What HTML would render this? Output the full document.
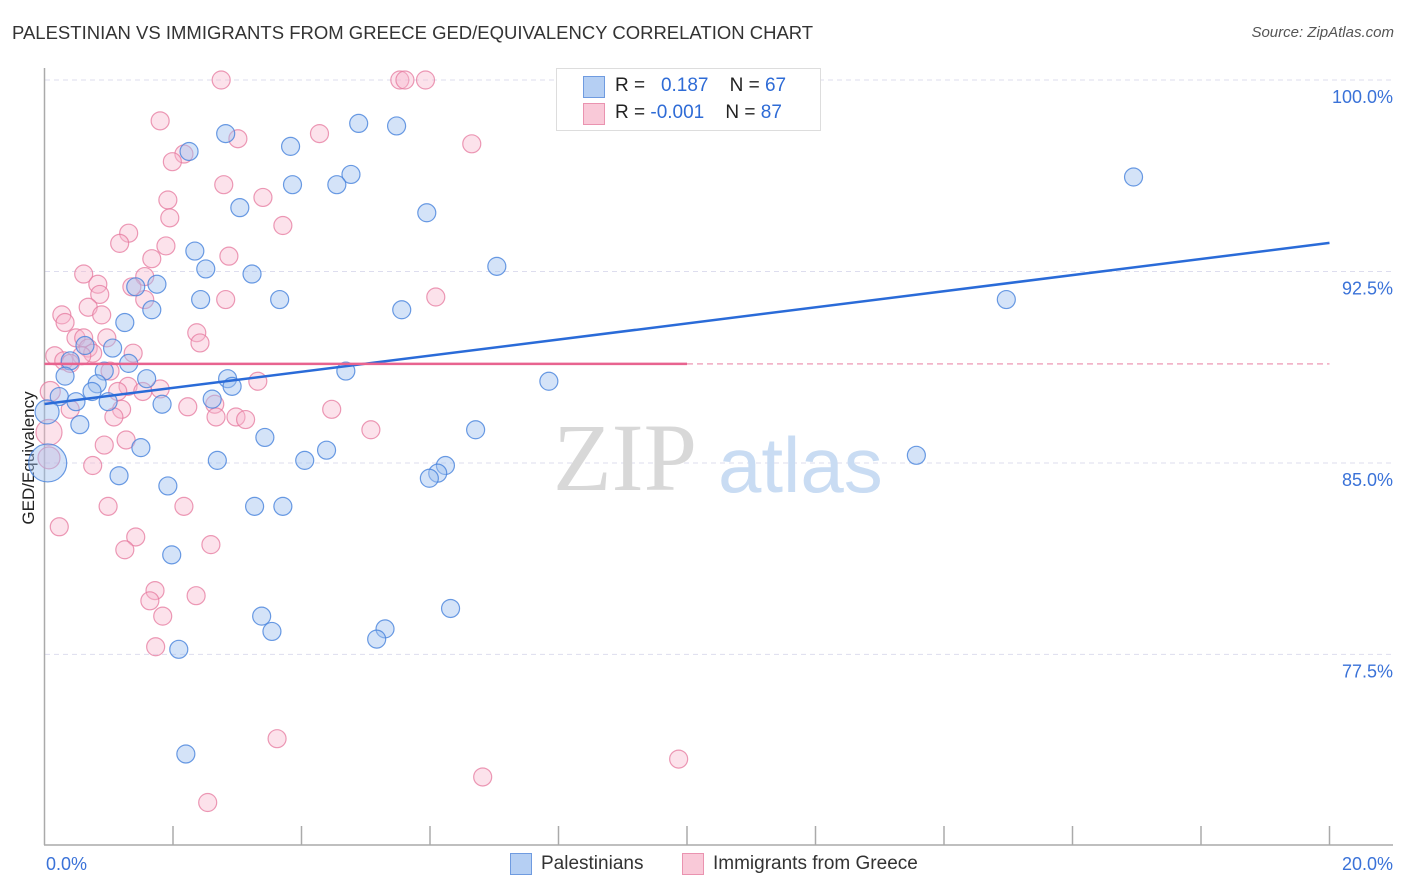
<!DOCTYPE html>
<html><head><meta charset="utf-8"><style>
body{margin:0;background:#fff;font-family:"Liberation Sans",sans-serif;}
#wrap{position:relative;width:1406px;height:892px;overflow:hidden;}
.t{position:absolute;white-space:nowrap;}
</style></head><body>
<div id="wrap">
<div class="t" style="left:12px;top:22px;font-size:18.5px;color:#333;">PALESTINIAN VS IMMIGRANTS FROM GREECE GED/EQUIVALENCY CORRELATION CHART</div>
<div class="t" style="right:12px;top:24px;font-size:15px;color:#555;font-style:italic;">Source: ZipAtlas.com</div>
<svg id="svg" width="1406" height="892" style="position:absolute;left:0;top:0"></svg>
</div>
<script>
const yTickVals=[100,92.5,85,77.5];
const yTickLabels=["100.0%","92.5%","85.0%","77.5%"];
const xTickLabels=["0.0%","20.0%"];
const blueX=[11.80,16.95,2.82,2.25,3.83,4.89,5.48,4.77,4.55,3.86,3.04,5.95,2.34,2.51,3.23,7.04,14.97,1.75,1.42,1.67,2.43,3.66,5.56,1.25,1.06,0.63,1.31,0.40,0.32,0.93,4.69,7.85,1.59,2.85,0.82,2.92,0.74,0.23,0.49,0.99,1.83,2.61,0.04,0.55,3.43,6.71,1.50,4.39,0.05,2.69,4.05,13.57,6.24,6.12,5.99,1.16,1.92,3.27,3.71,1.98,6.32,3.38,3.54,5.30,5.17,2.09,2.20];
const blueY=[100.0,96.2,97.9,97.2,97.4,98.3,98.2,96.3,95.9,95.9,95.0,94.8,93.3,92.6,92.4,92.7,91.4,92.0,91.9,91.0,91.4,91.4,91.0,90.5,89.5,89.6,88.9,89.0,88.4,88.6,88.6,88.2,88.3,88.3,88.1,88.0,87.8,87.6,87.4,87.4,87.3,87.5,87.0,86.5,86.0,86.3,85.6,85.5,85.0,85.1,85.1,85.3,84.9,84.6,84.4,84.5,84.1,83.3,83.3,81.4,79.3,79.0,78.4,78.5,78.1,77.7,73.6];
const blueSize=blueX.map((_,i)=>i===48?19:(i===42?12:9));
const pinkX=[2.75,5.53,5.61,5.93,1.80,4.28,3.01,6.65,2.17,1.99,2.79,3.40,1.92,1.95,3.71,1.31,1.17,1.89,2.87,1.67,0.61,1.56,1.36,0.83,0.86,1.56,2.82,6.09,0.68,0.89,0.27,0.32,2.37,2.42,0.49,0.61,0.97,0.68,0.75,1.38,0.16,0.58,0.30,0.40,1.02,3.32,1.30,1.80,1.14,0.09,1.53,2.23,2.65,4.47,1.20,1.08,0.40,2.98,2.67,3.13,5.08,0.07,1.27,0.93,0.75,0.07,0.99,2.17,0.23,1.42,2.59,1.25,1.72,1.64,2.36,1.84,1.73,3.62,9.87,6.82,2.54];
const pinkY=[100,100,100,100,98.4,97.9,97.7,97.5,97.1,96.8,95.9,95.4,95.3,94.6,94.3,94.0,93.6,93.5,93.1,93.0,92.4,92.3,91.9,92.0,91.6,91.4,91.4,91.5,91.1,90.8,90.8,90.5,90.1,89.7,89.9,89.9,89.9,89.5,89.3,89.3,89.2,89.2,89.0,88.9,88.6,88.2,88.0,87.9,87.8,87.8,87.8,87.2,87.3,87.1,87.1,86.8,87.1,86.8,86.8,86.7,86.3,86.2,85.9,85.7,84.9,85.2,83.3,83.3,82.5,82.1,81.8,81.6,80.0,79.6,79.8,79.0,77.8,74.2,73.4,72.7,71.7];
const pinkSize=pinkX.map((_,i)=>i===61?13:(i===65?11:(i===49?10:9)));
const blueTrend=[87.31,93.62];
const pinkTrend=[88.88,88.88];

const X0=44.5,XS=64.25,Y0=80,YS=25.53;
const sx=v=>X0+v*XS, sy=v=>Y0+(100-v)*YS;
const svg=document.getElementById('svg');const NS='http://www.w3.org/2000/svg';
function mk(tag,at,parent){const e=document.createElementNS(NS,tag);for(const k in at)e.setAttribute(k,at[k]);(parent||svg).appendChild(e);return e;}
yTickVals.forEach((v,i)=>{
 const g=mk('line',{x1:45,x2:1393,y1:sy(v),y2:sy(v),stroke:'#dde',"stroke-dasharray":'5,4'});
 
 
 const t=mk('text',{x:1393,y:sy(v)+23,'text-anchor':'end','font-size':18,fill:'#3a72d8','font-family':'Liberation Sans'});
 t.textContent=yTickLabels[i];
 
 
});
const ax=mk('line',{x1:44.5,x2:44.5,y1:68,y2:845,stroke:'#aaa','stroke-width':1.5});


const bx=mk('line',{x1:44,x2:1393,y1:845,y2:845,stroke:'#aaa','stroke-width':1.5});


for(let k=1;k<=10;k++){const tk=mk('line',{x1:sx(2*k),x2:sx(2*k),y1:826,y2:845,stroke:'#aaa','stroke-width':1.5});
 
 }
[[0,'start',46],[20,'end',1393]].forEach((a,i)=>{const t=mk('text',{x:a[2],y:870,'text-anchor':a[1],'font-size':18,fill:'#3a72d8','font-family':'Liberation Sans'});t.textContent=xTickLabels[i];
 
 });
const yl=mk('text',{x:0,y:0,transform:'translate(34,458) rotate(-90)','text-anchor':'middle','font-size':17,fill:'#222','font-family':'Liberation Sans'});yl.textContent='GED/Equivalency';


const wm=mk('text',{x:553,y:490,'font-size':96,fill:'#d8d8d8','font-family':'Liberation Serif'});wm.textContent='ZIP';


const wm2=mk('text',{x:718,y:492,'font-size':78,fill:'#c9dcf3','font-family':'Liberation Sans'});wm2.textContent='atlas';


function pts(xs,ys,ss,fill,stroke,name){xs.forEach((x,i)=>{const c=mk('circle',{cx:sx(x),cy:sy(ys[i]),r:ss[i],fill:fill,stroke:stroke,'stroke-width':1.2});
 
 });}
pts(pinkX,pinkY,pinkSize,'rgba(248,182,204,0.4)','rgba(230,120,158,0.75)','greece-point');
pts(blueX,blueY,blueSize,'rgba(160,194,240,0.45)','rgba(70,130,220,0.8)','palestinian-point');
const bl=mk('line',{x1:sx(0),x2:sx(20),y1:sy(blueTrend[0]),y2:sy(blueTrend[1]),stroke:'#2a6bd8','stroke-width':2.5});


const pl=mk('line',{x1:sx(0),x2:sx(10),y1:sy(pinkTrend[0]),y2:sy(pinkTrend[0]+(pinkTrend[1]-pinkTrend[0])/2),stroke:'#e8638f','stroke-width':2.5});


const pd=mk('line',{x1:sx(10),x2:sx(20),y1:sy(pinkTrend[0]+(pinkTrend[1]-pinkTrend[0])/2),y2:sy(pinkTrend[1]),stroke:'#f0a9c0','stroke-width':1.5,'stroke-dasharray':'6,4'});


</script>
<div class="t" style="left:556px;top:68px;width:263px;height:61px;border:1px solid #ddd;background:#fff;">
 <div class="t" style="left:26px;top:7px;width:20px;height:20px;background:#b5cff3;border:1px solid #6f9be0;"></div>
 <div class="t" style="left:58px;top:6px;font-size:19px;color:#222;">R = &nbsp;&nbsp;<span style="color:#2e6bd6">0.187</span>&nbsp;&nbsp;&nbsp;&nbsp;N = <span style="color:#2e6bd6">67</span></div>
 <div class="t" style="left:26px;top:34px;width:20px;height:20px;background:#f9c9d8;border:1px solid #ea93b0;"></div>
 <div class="t" style="left:58px;top:33px;font-size:19px;color:#222;">R = <span style="color:#2e6bd6">-0.001</span>&nbsp;&nbsp;&nbsp;&nbsp;N = <span style="color:#2e6bd6">87</span></div>
</div>
<div class="t" style="left:510px;top:853px;width:20px;height:20px;background:#b5cff3;border:1px solid #6f9be0;"></div>
<div class="t" style="left:541px;top:853px;font-size:19px;color:#333;">Palestinians</div>
<div class="t" style="left:682px;top:853px;width:20px;height:20px;background:#f9c9d8;border:1px solid #ea93b0;"></div>
<div class="t" style="left:713px;top:853px;font-size:19px;color:#333;">Immigrants from Greece</div>
</body></html>
